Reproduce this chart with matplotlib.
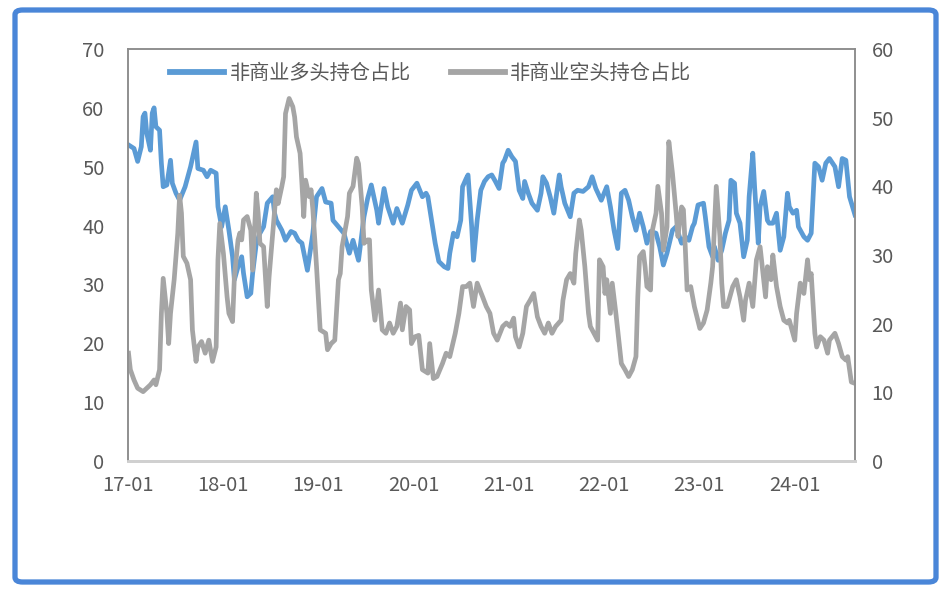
import numpy as np
import pandas as pd
import matplotlib
matplotlib.use("Agg")
import matplotlib.pyplot as plt
import matplotlib.dates as mdates
from matplotlib.patches import FancyBboxPatch

plt.rcParams['font.family'] = ['Noto Sans CJK SC', 'DejaVu Sans']

# ---- data: week offsets from 2017-01-03 (weekly CFTC reports) and shares (%) ----
start_date = "2017-01-03"
long_weeks = [0, 3, 5, 7, 8, 9, 10, 12, 13, 14, 15, 17, 18, 19, 21, 23, 24, 26, 28, 31, 33, 34, 37, 38,
              41, 43, 45, 48, 49, 51, 53, 55, 57, 58, 60, 62, 63, 65, 67, 68, 70, 72, 74, 76, 79, 80,
              81, 84, 86, 89, 91, 93, 95, 98, 101, 103, 106, 108, 111, 112, 115, 118, 121, 123, 126,
              129, 131, 133, 136, 137, 140, 142, 145, 147, 150, 153, 155, 158, 161, 163, 164, 166,
              168, 170, 173, 175, 176, 178, 180, 182, 183, 185, 186, 188, 189, 191, 193, 195, 197,
              199, 201, 203, 205, 206, 208, 210, 212, 214, 216, 217, 219, 221, 224, 226, 227, 229,
              231, 233, 236, 237, 239, 242, 244, 246, 249, 252, 254, 256, 259, 262, 264, 266, 268,
              270, 272, 274, 276, 278, 280, 282, 284, 286, 289, 291, 293, 295, 298, 300, 303, 305,
              307, 309, 310, 312, 315, 316, 318, 320, 321, 323, 325, 327, 329, 330, 332, 333, 335,
              337, 339, 340, 342, 343, 345, 346, 348, 350, 351, 353, 355, 357, 359, 361, 362, 364,
              366, 367, 370, 372, 374, 376, 378, 380, 382, 384, 387, 389, 391, 393, 395, 398]
long_share = [53.7, 53.1, 50.9, 53.4, 58.5, 59.1, 55.7, 52.8, 59.1, 60.0, 56.8, 56.2, 50.6, 46.6, 46.9,
              51.1, 47.2, 45.5, 44.3, 46.6, 48.9, 50.0, 54.2, 49.7, 49.4, 48.3, 49.4, 48.9, 43.2, 39.8,
              43.2, 39.2, 34.7, 30.8, 33.0, 34.7, 31.9, 27.9, 28.5, 31.9, 37.0, 38.7, 39.8, 43.8, 44.9,
              42.1, 40.9, 39.2, 37.5, 39.0, 38.7, 37.5, 37.0, 32.4, 38.7, 44.9, 46.3, 44.0, 43.8, 40.9,
              39.8, 38.7, 35.3, 37.5, 34.1, 41.5, 44.6, 46.9, 42.6, 40.4, 46.3, 43.2, 40.4, 42.9, 40.4,
              43.5, 46.0, 47.2, 44.9, 45.5, 44.9, 40.9, 37.0, 33.9, 33.0, 32.7, 35.3, 38.7, 38.1, 40.9,
              46.6, 48.0, 48.6, 39.8, 34.1, 40.9, 46.0, 47.5, 48.3, 48.6, 47.5, 46.3, 50.6, 51.1, 52.8,
              51.7, 50.9, 46.0, 44.6, 47.5, 45.5, 43.8, 42.6, 45.5, 48.3, 47.2, 44.9, 42.1, 48.6, 46.6,
              43.8, 41.5, 45.5, 46.0, 45.8, 46.6, 48.3, 46.3, 44.3, 46.6, 43.2, 39.2, 36.1, 45.5, 46.0,
              44.3, 41.5, 39.2, 42.1, 39.8, 37.0, 39.0, 38.7, 36.4, 33.3, 35.3, 39.2, 39.8, 37.0, 38.1,
              37.5, 39.8, 40.4, 43.5, 43.8, 41.5, 36.4, 34.7, 36.4, 34.1, 35.8, 38.7, 40.9, 47.7, 47.2,
              42.1, 40.4, 34.7, 37.5, 44.9, 52.3, 46.6, 37.0, 43.2, 45.8, 40.9, 40.4, 40.4, 42.1, 35.8,
              38.1, 45.5, 43.2, 42.1, 42.6, 39.8, 38.1, 37.5, 38.7, 50.6, 50.0, 47.7, 50.6, 51.4, 50.0,
              46.6, 51.4, 51.1, 44.9, 41.8]

short_weeks = [0, 1, 3, 5, 8, 10, 12, 14, 15, 17, 18, 19, 21, 22, 23, 25, 27, 28, 29, 30, 32, 34, 35,
               37, 38, 40, 42, 44, 46, 48, 49, 50, 52, 54, 55, 57, 58, 60, 61, 62, 63, 65, 67, 68, 70,
               71, 72, 74, 76, 77, 79, 81, 82, 84, 85, 86, 88, 90, 91, 92, 94, 95, 96, 97, 99, 100,
               101, 103, 105, 108, 109, 111, 113, 115, 116, 117, 120, 121, 123, 125, 126, 128, 129,
               131, 132, 133, 135, 137, 139, 141, 143, 145, 147, 149, 150, 152, 154, 155, 157, 159,
               161, 164, 165, 167, 169, 172, 174, 176, 179, 181, 183, 185, 187, 189, 191, 194, 196,
               198, 200, 202, 205, 207, 209, 211, 212, 214, 216, 218, 220, 222, 224, 226, 228, 230,
               232, 234, 237, 238, 240, 242, 244, 245, 247, 248, 250, 252, 253, 256, 257, 258, 260,
               261, 262, 264, 265, 267, 269, 270, 272, 274, 276, 278, 279, 280, 282, 283, 284, 286,
               287, 289, 290, 292, 293, 295, 296, 298, 300, 301, 303, 304, 305, 306, 308, 310, 313,
               315, 317, 319, 320, 322, 324, 325, 326, 328, 331, 333, 335, 337, 338, 340, 342, 344,
               346, 348, 349, 350, 352, 353, 355, 357, 359, 361, 362, 365, 366, 368, 370, 372, 373,
               374, 376, 377, 379, 381, 383, 384, 387, 389, 391, 393, 394, 396, 398]
short_share = [15.7, 13.3, 11.8, 10.6, 10.1, 10.6, 11.1, 11.8, 11.1, 13.3, 21.5, 26.6, 21.5, 17.1, 21.5,
               26.4, 33.2, 38.7, 36.1, 29.8, 28.8, 26.4, 19.1, 14.5, 16.6, 17.4, 15.7, 17.6, 14.5, 16.6,
               29.3, 34.6, 30.2, 23.9, 21.5, 20.3, 26.8, 32.2, 33.2, 32.2, 35.1, 35.6, 33.6, 27.8, 39.0,
               36.1, 31.7, 31.2, 22.5, 26.8, 33.2, 39.5, 37.5, 40.0, 41.4, 50.6, 52.8, 51.6, 50.1, 47.2,
               44.8, 40.4, 35.6, 40.9, 38.5, 39.5, 36.6, 28.3, 19.1, 18.6, 16.2, 17.1, 17.6, 26.4, 27.3,
               31.2, 35.6, 39.0, 40.0, 44.1, 43.3, 37.0, 31.7, 32.2, 32.2, 24.9, 20.5, 24.9, 19.1, 18.6,
               20.1, 18.6, 19.6, 23.0, 19.1, 22.5, 22.0, 17.1, 18.1, 18.3, 13.3, 12.8, 17.1, 12.0, 12.3,
               14.2, 15.7, 15.2, 18.6, 21.5, 25.4, 25.4, 25.9, 22.5, 25.9, 23.9, 22.5, 21.5, 18.6, 17.6,
               19.6, 20.1, 19.6, 20.8, 18.1, 16.6, 18.6, 22.5, 23.4, 24.4, 21.0, 19.6, 18.6, 20.1, 18.6,
               19.6, 20.5, 23.4, 26.4, 27.3, 25.9, 30.2, 35.1, 33.6, 28.3, 21.5, 19.6, 18.1, 17.6, 29.3,
               28.3, 24.4, 26.4, 21.5, 25.9, 21.5, 16.6, 14.2, 13.3, 12.3, 13.3, 15.2, 23.9, 29.8, 30.5,
               28.3, 25.4, 24.9, 33.6, 36.1, 40.0, 36.1, 30.7, 34.1, 46.5, 41.9, 36.1, 32.7, 37.0, 36.6,
               31.2, 24.9, 25.4, 22.5, 19.3, 20.1, 22.0, 25.9, 28.3, 40.0, 32.7, 25.9, 22.5, 22.5, 25.4,
               26.4, 23.9, 20.5, 23.4, 25.9, 22.5, 29.3, 31.2, 26.4, 23.9, 28.3, 26.4, 30.0, 25.4, 22.5,
               20.5, 20.1, 20.5, 17.6, 21.5, 25.9, 24.4, 29.3, 26.4, 27.3, 18.6, 16.6, 18.1, 17.6, 15.7,
               17.6, 18.6, 17.1, 15.2, 14.7, 15.2, 11.5, 11.3]

long_label = "非商业多头持仓占比"
short_label = "非商业空头持仓占比"
left_ticks = [0, 10, 20, 30, 40, 50, 60, 70]
right_ticks = [0, 10, 20, 30, 40, 50, 60]
x_tick_years = [2017, 2018, 2019, 2020, 2021, 2022, 2023, 2024]

# ---- build dates ----
t0 = pd.Timestamp(start_date)
long_dates = t0 + pd.to_timedelta(np.array(long_weeks) * 7, unit="D")
short_dates = t0 + pd.to_timedelta(np.array(short_weeks) * 7, unit="D")

W, H = 951, 591
fig = plt.figure(figsize=(W / 100, H / 100), dpi=100)
fig.patch.set_facecolor("white")

# outer rounded blue frame
frame = FancyBboxPatch((15 / W, 9 / H), (936 - 15) / W, (581 - 9) / H,
                       boxstyle="round,pad=0,rounding_size=0.008",
                       transform=fig.transFigure, facecolor="none",
                       edgecolor="#4A86D8", linewidth=3.8, zorder=5)
fig.patches.append(frame)

ax = fig.add_axes([128 / W, (H - 461) / H, (855 - 128) / W, (461 - 49) / H])
ax.set_facecolor("none")
ax2 = ax.twinx()

blue = "#5B9BD5"
grey = "#A5A5A5"
ln1, = ax.plot(long_dates, long_share, color=blue, lw=3.4, solid_joinstyle="round", label=long_label)
ln2, = ax2.plot(short_dates, short_share, color=grey, lw=3.4, solid_joinstyle="round", label=short_label)

ax.set_ylim(0, 70)
ax2.set_ylim(0, 60)
ax.set_yticks(left_ticks)
ax2.set_yticks(right_ticks)

xmin = pd.Timestamp("2017-01-01")
xmax = long_dates[-1]
ax.set_xlim(xmin, xmax)
ax.set_xticks([pd.Timestamp(f"{y}-01-01") for y in x_tick_years])
ax.xaxis.set_major_formatter(mdates.DateFormatter("%y-%m"))

lab_col = "#595959"
ax.tick_params(axis="y", length=0, pad=17, labelsize=14.5, labelcolor=lab_col)
ax2.tick_params(axis="y", length=0, pad=12, labelsize=14.5, labelcolor=lab_col)
ax.tick_params(axis="x", length=0, pad=10, labelsize=14.5, labelcolor=lab_col)

for a in (ax, ax2):
    for s in ("left", "right", "top"):
        a.spines[s].set_color("#8C8C8C")
        a.spines[s].set_linewidth(1.1)
    a.spines["bottom"].set_color("#D0D0D0")
    a.spines["bottom"].set_linewidth(2.0)

leg = ax2.legend(handles=[ln1, ln2], loc="upper left", ncol=2, frameon=False,
                 bbox_to_anchor=(170 / W, (H - 63) / H), bbox_transform=fig.transFigure,
                 fontsize=14.5, handlelength=2.7, handletextpad=0.25, columnspacing=2.0,
                 borderaxespad=0, borderpad=0)
for t in leg.get_texts():
    t.set_color(lab_col)
for h in leg.get_lines():
    h.set_linewidth(4.2)

fig.savefig("out.png", dpi=100, facecolor="white")
